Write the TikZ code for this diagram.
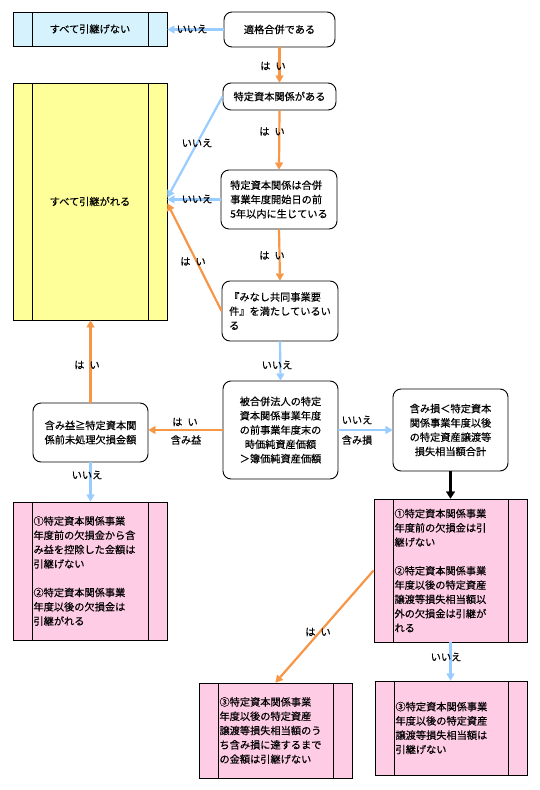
\documentclass[tikz,border=0pt]{standalone}
\usepackage{fontspec}
\newfontfamily\jp[FakeBold=0.35]{Noto Sans CJK JP}
\usetikzlibrary{arrows.meta,calc}
\definecolor{lblue}{HTML}{99CCFF}
\definecolor{orangeA}{HTML}{F79646}
\definecolor{cyanf}{HTML}{D6F3FD}
\definecolor{yellowf}{HTML}{FFFF99}
\definecolor{pinkf}{HTML}{FFCCE5}
\begin{document}
\begin{tikzpicture}[x=1pt,y=-1pt,
  every node/.style={font=\jp\fontsize{10.2}{14.3}\selectfont, inner sep=0pt},
  rbox/.style={draw=black, line width=0.9pt, rounded corners=8pt, fill=white},
  sbox/.style={draw=black, line width=0.9pt,
    path picture={
      \draw[line width=0.9pt] ([xshift=19pt]path picture bounding box.north west) -- ([xshift=19pt]path picture bounding box.south west);
      \draw[line width=0.9pt] ([xshift=-19pt]path picture bounding box.north east) -- ([xshift=-19pt]path picture bounding box.south east);
    }},
  barrow/.style={draw=lblue, line width=2.2pt, -{Triangle[length=7pt,width=8pt,line width=0.2pt]}},
  oarrow/.style={draw=orangeA, line width=2.2pt, -{Triangle[length=7pt,width=8pt,line width=0.2pt]}},
  karrow/.style={draw=black, line width=3pt, -{Triangle[length=7pt,width=9pt,line width=0.2pt]}},
  lbl/.style={}
]
\useasboundingbox (0,0) rectangle (540,790);
\fill[white] (0,0) rectangle (540,790);

% boxes
\node[rbox, minimum width=111pt, minimum height=35pt] (A) at (279.5,29.5) {適格合併である};
\node[sbox, fill=cyanf, minimum width=154pt, minimum height=34pt] (S1) at (90,29) {すべて引継げない};
\node[rbox, minimum width=113pt, minimum height=27pt] (B) at (279.5,96.5) {特定資本関係がある};
\node[sbox, fill=yellowf, minimum width=154pt, minimum height=237pt] (S2) at (90,201.5) {すべて引継がれる};
\node[rbox, align=left, minimum width=116pt, minimum height=59pt] (C) at (279,199.5) {特定資本関係は合併\\事業年度開始日の前\\5年以内に生じている};
\node[rbox, align=left, minimum width=116pt, minimum height=60pt] (D) at (280,311) {『みなし共同事業要\\件』を満たしているい\\る};
\node[rbox, align=center, minimum width=115pt, minimum height=98pt] (E) at (280.5,430) {被合併法人の特定\\資本関係事業年度\\の前事業年度末の\\時価純資産価額\\＞簿価純資産価額};
\node[rbox, align=center, minimum width=115pt, minimum height=82pt] (F) at (450.5,430) {含み損＜特定資本\\関係事業年度以後\\の特定資産譲渡等\\損失相当額合計};
\node[rbox, align=center, minimum width=115pt, minimum height=59pt] (G) at (90.5,432.5) {含み益≧特定資本関\\係前未処理欠損金額};
\node[sbox, fill=pinkf, text width=113pt, align=left, minimum width=154pt, minimum height=138pt] (P1) at (90,571) {①特定資本関係事業\\年度前の欠損金から含\\み益を控除した金額は\\引継げない\\[14.3pt]②特定資本関係事業\\年度以後の欠損金は\\引継がれる};
\node[sbox, fill=pinkf, text width=112pt, align=left, minimum width=153pt, minimum height=143pt] (P2) at (450.5,570.5) {①特定資本関係事業\\年度前の欠損金は引\\継げない\\[14.3pt]②特定資本関係事業\\年度以後の特定資産\\譲渡等損失相当額以\\外の欠損金は引継が\\れる};
\node[sbox, fill=pinkf, text width=111pt, align=left, minimum width=152pt, minimum height=94pt] (P3) at (451,728) {③特定資本関係事業\\年度以後の特定資産\\譲渡等損失相当額は\\引継げない};
\node[sbox, fill=pinkf, text width=112pt, align=left, minimum width=153pt, minimum height=95pt] (P4) at (275.5,730.5) {③特定資本関係事業\\年度以後の特定資産\\譲渡等損失相当額のう\\ち含み損に達するまで\\の金額は引継げない};

% connectors
\draw[barrow] (A.west) -- (A.west -| S1.east);
\draw[oarrow] (A.south) -- (B.north);
\draw[barrow] (B.west) -- ([yshift=4pt]S2.east);
\draw[oarrow] (B.south) -- (C.north);
\draw[barrow] (C.west) -- (C.west -| S2.east);
\draw[oarrow] (C.south) -- (D.north);
\draw[oarrow] (D.west) -- ([yshift=-2pt]S2.east);
\draw[barrow] (D.south) -- (E.north);
\draw[barrow] (E.east) -- (F.west);
\draw[oarrow] (E.west) -- (E.west -| G.east);
\draw[oarrow] (G.north) -- (G.north |- S2.south);
\draw[barrow] (G.south) -- (G.south |- P1.north);
\draw[karrow] (F.south) -- (P2.north);
\draw[barrow] (P2.south) -- (P2.south |- P3.north);
\draw[oarrow] (P2.west) -- (P4.north);

% labels
\node[lbl] (t1) at (192,29) {いいえ};
\node[lbl] (t2) at (273,66) {は\hspace{5pt}い};
\node[lbl] (t3) at (197,143) {いいえ};
\node[lbl] (t4) at (272,131.5) {は\hspace{5pt}い};
\node[lbl] (t5) at (197,199) {いいえ};
\node[lbl] (t6) at (272,255.5) {は\hspace{5pt}い};
\node[lbl] (t7) at (193,261.5) {は\hspace{5pt}い};
\node[lbl] (t8) at (277,365) {いいえ};
\node[lbl] (t9) at (357,420) {いいえ};
\node[lbl] (t10) at (357,440) {含み損};
\node[lbl] (t11) at (185,422) {は\hspace{5pt}い};
\node[lbl] (t12) at (186,440) {含み益};
\node[lbl] (t13) at (87,365) {は\hspace{5pt}い};
\node[lbl] (t14) at (87,475) {いいえ};
\node[lbl] (t15) at (446,657) {いいえ};
\node[lbl] (t16) at (318,632) {は\hspace{5pt}い};
\end{tikzpicture}
\end{document}
